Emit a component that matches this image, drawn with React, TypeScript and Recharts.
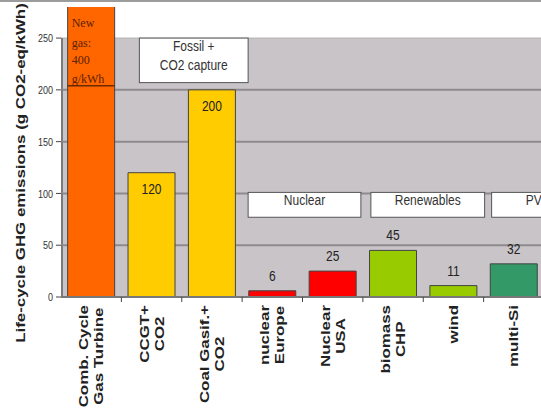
import React from 'react';
import { BarChart, Bar, XAxis, YAxis, Cell, LabelList, ReferenceArea, Label } from 'recharts';

const categories = [
  'Comb. Cycle\nGas Turbine',
  'CCGT+\nCO2',
  'Coal Gasif.+\nCO2',
  'nuclear\nEurope',
  'Nuclear\nUSA',
  'biomass\nCHP',
  'wind',
  'multi-Si',
];
const emissions = [400, 120, 200, 6, 25, 45, 11, 32];
const barColors = ['#ff6600', '#ffcc00', '#ffcc00', '#ff0000', '#ff0000', '#99cc00', '#99cc00', '#339966'];
const yTicks = [0, 50, 100, 150, 200, 250];
const yTitle = 'Life-cycle GHG emissions (g CO2-eq/kWh)';

// note written on the truncated gas bar, and where the bar is cut
const gasNote = ['New', 'gas:', '400', 'g/kWh'];
const gasBreak = 204;

// group boxes
const groupLabels = [['Fossil +', 'CO2 capture'], ['Nuclear'], ['Renewables'], ['PV']];
const groupFrom = [1, 3, 5, 7];
const groupTo = [2, 4, 6, 7];
const groupTop = [250, 101, 101, 101];
const groupBottom = [207, 77, 77, 77];
const groupNudge = [[18, 6], [6, -2], [8, 1], [8, 32]];

const data = categories.map((name, i) => ({ name, value: emissions[i] }));

const FONT = '"Liberation Sans", Arial, sans-serif';

let ctx: CanvasRenderingContext2D | null = null;
const measure = (s: string) => {
  if (!ctx) ctx = document.createElement('canvas').getContext('2d');
  if (!ctx) return s.length * 7;
  ctx.font = `bold 13px ${FONT}`;
  return ctx.measureText(s).width;
};

const Stripe = (props: any) => {
  const { x, y, width, height, isTop } = props;
  return (
    <g>
      <rect x={x} y={y} width={width} height={height} fill="#c8c4c8" />
      <line x1={x} x2={x + width} y1={y} y2={y} stroke={isTop ? '#b4b0b4' : '#8e8a8e'} strokeWidth={isTop ? 1 : 2} />
      <line x1={x + 1} x2={x + 1} y1={y} y2={y + height} stroke="#7a7a7a" strokeWidth={2} />
    </g>
  );
};

const makeBox = (i: number) => (props: any) => {
  const { x, y, width, height } = props;
  const [l, r] = groupNudge[i];
  const bx = x + l;
  const bw = width - l + r;
  return (
    <g>
      <rect x={bx} y={y} width={bw} height={height} fill="#ffffff" stroke="#555" strokeWidth={1} />
      {groupLabels[i].map((t, k) => (
        <text
          key={k}
          transform={`translate(${bx + bw / 2},${y + 13 + k * 19}) scale(1,1.15)`}
          textAnchor="middle"
          fontSize={12}
          fontFamily={FONT}
          fill="#333"
        >
          {t}
        </text>
      ))}
    </g>
  );
};

const renderBarLabel = (props: any) => {
  const vb = props.viewBox && props.viewBox.width !== undefined ? props.viewBox : props;
  const { x, y, width, height } = vb;
  const { value, index } = props;
  if (index === 0) {
    const cut = y + height * (1 - gasBreak / value);
    const offs = [59, 39, 22, 3];
    return (
      <g>
        <line x1={x} x2={x + width} y1={cut} y2={cut} stroke="#6b2a00" strokeWidth={1.5} />
        {gasNote.map((t, k) => (
          <text key={k} x={x + 4} y={cut - offs[k]} fontSize={12} fontFamily="'Liberation Serif', 'Times New Roman', serif" fill="#5a2200">
            {t}
          </text>
        ))}
      </g>
    );
  }
  const inside = value >= 100;
  const ty = inside ? y + 21 : y - 10;
  return (
    <text transform={`translate(${x + width / 2},${ty}) scale(1,1.25)`} textAnchor="middle" fontSize={12} fontFamily={FONT} fill="#222">
      {value}
    </text>
  );
};

const ValueTick = (props: any) => {
  const { x, y, payload } = props;
  return (
    <text transform={`translate(${x - 1},${y}) scale(1,1.3)`} y={3.2} textAnchor="end" fontSize={9} fontFamily={FONT} fill="#333">
      {payload.value}
    </text>
  );
};

const CategoryTick = (props: any) => {
  const { x, y, payload } = props;
  const lines = String(payload.value).split('\n');
  const half = payload.offset || 30;
  const len = Math.max(...lines.map(measure)) * 1.3;
  const cy = y + 3 + len / 2;
  return (
    <g>
      <line x1={x + half} x2={x + half} y1={y - 5} y2={y} stroke="#444" />
      {lines.map((t, k) => {
        const dx = (k - (lines.length - 1) / 2) * 15;
        return (
          <text
            key={k}
            transform={`translate(${x + dx + 4.5},${cy}) rotate(-90) scale(1.3,1)`}
            textAnchor="middle"
            fontSize={13}
            fontWeight="bold"
            fontFamily={FONT}
            fill="#222"
          >
            {t}
          </text>
        );
      })}
    </g>
  );
};

const YTitle = (props: any) => {
  const vb = props.viewBox || { y: 7, height: 290 };
  const cy = vb.y + vb.height / 2 + 21;
  return (
    <text
      transform={`translate(25,${cy}) rotate(-90) scale(1.3,1)`}
      textAnchor="middle"
      fontSize={13}
      fontWeight="bold"
      fontFamily={FONT}
      fill="#222"
    >
      {yTitle}
    </text>
  );
};

export default function App() {
  const stripes = yTicks.slice(0, -1).map((v, i) => [v, yTicks[i + 1]]).reverse();
  return (
    <div style={{ position: 'fixed', left: 0, top: 0, width: 541, height: 418, overflow: 'hidden', background: '#fff', fontFamily: FONT }}>
      <div style={{ position: 'absolute', left: 0, top: 0, width: 541, height: 2, background: '#9c9c9c', zIndex: 2 }} />
      <BarChart width={546} height={418} data={data} margin={{ top: 7, right: 2, left: 0, bottom: 0 }} barCategoryGap="11%">
        {stripes.map(([lo, hi], i) => (
          <ReferenceArea key={`s${lo}`} y1={lo} y2={hi} shape={(p: any) => <Stripe {...p} isTop={i === 0} />} />
        ))}
        {groupLabels.map((_, i) => (
          <ReferenceArea
            key={`g${i}`}
            x1={categories[groupFrom[i]]}
            x2={categories[groupTo[i]]}
            y1={groupBottom[i]}
            y2={groupTop[i]}
            shape={makeBox(i)}
          />
        ))}
        <XAxis
          dataKey="name"
          interval={0}
          tickLine={false}
          axisLine={{ stroke: '#777', strokeWidth: 2 }}
          height={121}
          tickSize={5}
          tickMargin={0}
          tick={<CategoryTick />}
        />
        <YAxis
          width={61}
          domain={[0, 280]}
          ticks={yTicks}
          allowDataOverflow
          axisLine={false}
          tickLine={{ stroke: '#444' }}
          tickSize={5}
          tick={<ValueTick />}
        >
          <Label content={<YTitle />} />
        </YAxis>
        <Bar dataKey="value" stroke="#444" strokeWidth={1} isAnimationActive={false}>
          {data.map((d, i) => (
            <Cell key={d.name} fill={barColors[i]} />
          ))}
          <LabelList dataKey="value" content={renderBarLabel} />
        </Bar>
      </BarChart>
    </div>
  );
}
